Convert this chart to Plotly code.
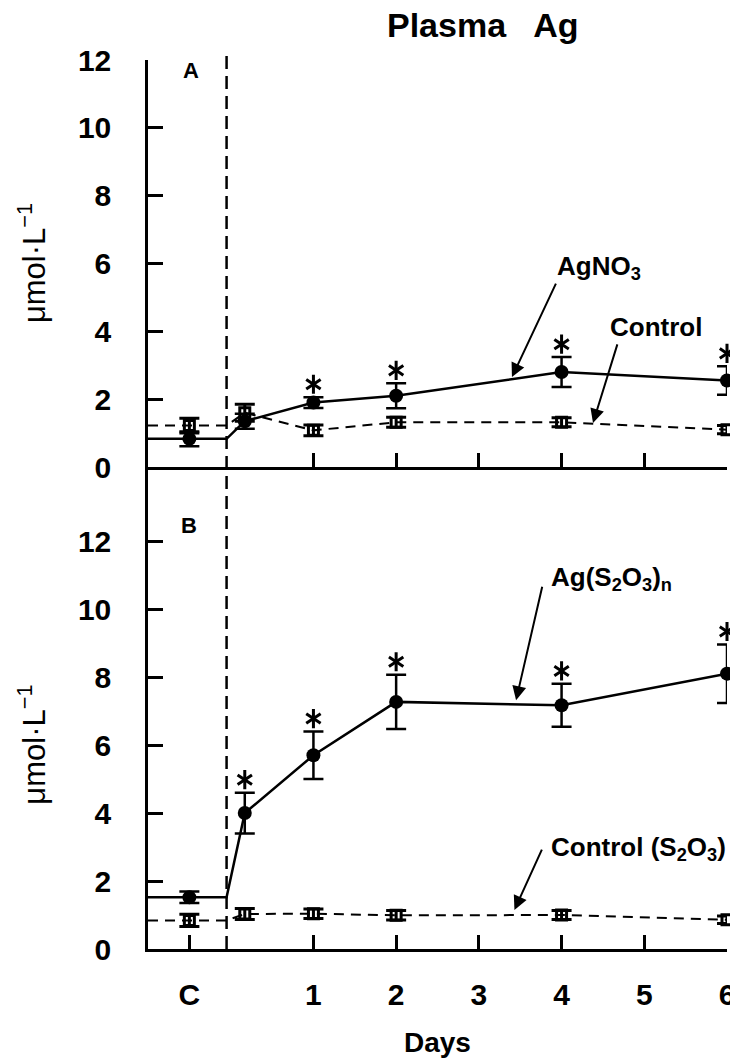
import plotly.graph_objects as go

# ---------------- data ----------------
day_ticks = [-0.5, 1, 2, 3, 4, 5, 6]
day_labels = ["C", "1", "2", "3", "4", "5", "6"]
sample_days = [-0.5, 0.17, 1, 2, 4, 6]      # C (pre-exposure), ~4 h, days 1, 2, 4, 6
exposure_start = -0.05                      # dashed vertical line: start of exposure
x_range = [-1, 6]

# Panel A
agno3 = [0.83, 1.35, 1.90, 2.10, 2.80, 2.55]
agno3_err = [0.22, 0.22, 0.16, 0.37, 0.44, 0.42]
agno3_sig = [False, False, True, True, True, True]
control_a = [1.22, 1.60, 1.08, 1.32, 1.32, 1.10]
control_a_err = [0.22, 0.25, 0.16, 0.15, 0.13, 0.12]

# Panel B
ags2o3 = [1.52, 4.00, 5.70, 7.27, 7.17, 8.10]
ags2o3_err = [0.17, 0.60, 0.70, 0.80, 0.63, 0.86]
ags2o3_sig = [False, True, True, True, True, True]
control_b = [0.84, 1.03, 1.04, 0.99, 1.00, 0.86]
control_b_err = [0.18, 0.16, 0.14, 0.14, 0.13, 0.11]

y_ticks = [0, 2, 4, 6, 8, 10, 12]
y_range_a = [0, 12]
y_range_b = [0, 14.18]

FONT = "Liberation Sans, Arial, Helvetica, sans-serif"
BLACK = "#000000"

fig = go.Figure()


def line_path(vals):
    xs = [x_range[0], exposure_start] + sample_days[1:]
    ys = [vals[0], vals[0]] + vals[1:]
    return xs, ys


def add_panel(xa, ya, treat, treat_err, treat_sig, ctrl, ctrl_err):
    # control: dashed line
    xs, ys = line_path(ctrl)
    fig.add_trace(go.Scatter(x=xs, y=ys, xaxis=xa, yaxis=ya, mode="lines",
                             line=dict(color=BLACK, width=2, dash="10px,7px"),
                             cliponaxis=False, hoverinfo="skip", showlegend=False))
    # treatment: solid line
    xs, ys = line_path(treat)
    fig.add_trace(go.Scatter(x=xs, y=ys, xaxis=xa, yaxis=ya, mode="lines",
                             line=dict(color=BLACK, width=2.5),
                             cliponaxis=False, hoverinfo="skip", showlegend=False))
    # control markers + error bars
    fig.add_trace(go.Scatter(x=sample_days, y=ctrl, xaxis=xa, yaxis=ya, mode="markers",
                             marker=dict(symbol="square-open", size=10, color=BLACK,
                                         line=dict(color=BLACK, width=3)),
                             error_y=dict(type="data", array=ctrl_err, visible=True,
                                          color=BLACK, thickness=3, width=10),
                             cliponaxis=False, showlegend=False))
    # treatment markers + error bars
    fig.add_trace(go.Scatter(x=sample_days, y=treat, xaxis=xa, yaxis=ya, mode="markers",
                             marker=dict(symbol="circle", size=14, color=BLACK),
                             error_y=dict(type="data", array=treat_err, visible=True,
                                          color=BLACK, thickness=2.5, width=10),
                             cliponaxis=False, showlegend=False))
    # significance asterisks
    sx = [d for d, s in zip(sample_days, treat_sig) if s]
    sy = [v + e + 0.38 for v, e, s in zip(treat, treat_err, treat_sig) if s]
    for sym in ("y-up-open", "y-down-open"):
        fig.add_trace(go.Scatter(x=sx, y=sy, xaxis=xa, yaxis=ya, mode="markers",
                                 marker=dict(symbol=sym, size=12, color=BLACK,
                                             line=dict(color=BLACK, width=3)),
                                 cliponaxis=False, hoverinfo="skip", showlegend=False))


add_panel("x", "y", agno3, agno3_err, agno3_sig, control_a, control_a_err)
add_panel("x2", "y2", ags2o3, ags2o3_err, ags2o3_sig, control_b, control_b_err)

split = 482 / 889

axis_common = dict(showline=True, linecolor=BLACK, linewidth=2.5, showgrid=False,
                   zeroline=False, ticks="inside", tickcolor=BLACK, tickwidth=2.5,
                   automargin=False, ticklabeloverflow="allow",
                   tickfont=dict(family=FONT, size=30, color=BLACK, weight="bold"))

# the page body adds an 8 px offset, so the figure is 8 px smaller than the window
fig.update_layout(
    width=730, height=1052,
    margin=dict(l=140, r=11, t=52, b=111, autoexpand=False),
    paper_bgcolor="white", plot_bgcolor="white",
    showlegend=False,
    xaxis=dict(axis_common, domain=[0, 1], range=x_range, anchor="y",
               tickvals=day_ticks[1:], showticklabels=False, ticklen=14),
    yaxis=dict(axis_common, domain=[split, 1], range=y_range_a, anchor="x",
               tickvals=y_ticks, ticklen=15, ticklabelstandoff=28),
    xaxis2=dict(axis_common, domain=[0, 1], range=x_range, anchor="y2",
                tickvals=day_ticks, ticktext=day_labels, ticklen=14,
                ticklabelstandoff=17),
    yaxis2=dict(axis_common, domain=[0, split], range=y_range_b, anchor="x2",
                tickvals=y_ticks, ticklen=15, ticklabelstandoff=28),
)

# dashed vertical line marking the start of exposure
fig.add_shape(type="line", xref="x", yref="paper", x0=exposure_start, x1=exposure_start,
              y0=0, y1=1.006, line=dict(color=BLACK, width=2.5, dash="13px,7px"))

ann_font = dict(family=FONT, size=26, color=BLACK)
annotations = [
    # title
    dict(text="<b>Plasma   Ag</b>", xref="paper", yref="paper", x=0.577, y=1.039,
         xanchor="center", yanchor="middle", showarrow=False,
         font=dict(family=FONT, size=34, color=BLACK)),
    # x-axis title
    dict(text="<b>Days</b>", xref="paper", yref="paper", x=0.500, y=-0.1057,
         xanchor="center", yanchor="middle", showarrow=False,
         font=dict(family=FONT, size=28, color=BLACK)),
    # y-axis titles
    dict(text="μmol·L<sup>−1</sup>", xref="paper", yref="y", x=-0.201, y=6,
         xanchor="center", yanchor="middle", textangle=-90, showarrow=False,
         font=dict(family=FONT, size=31, color=BLACK)),
    dict(text="μmol·L<sup>−1</sup>", xref="paper", yref="y2", x=-0.201, y=6,
         xanchor="center", yanchor="middle", textangle=-90, showarrow=False,
         font=dict(family=FONT, size=31, color=BLACK)),
    # panel letters
    dict(text="<b>A</b>", xref="x", yref="y", x=-0.479, y=11.7, showarrow=False,
         xanchor="center", yanchor="middle", font=dict(family=FONT, size=22, color=BLACK)),
    dict(text="<b>B</b>", xref="x2", yref="y2", x=-0.50, y=12.47, showarrow=False,
         xanchor="center", yanchor="middle", font=dict(family=FONT, size=22, color=BLACK)),
    # series labels
    dict(text="<b>AgNO<sub>3</sub></b>", xref="x", yref="y", x=3.92, y=5.87,
         xanchor="left", yanchor="middle", showarrow=False, font=ann_font),
    dict(text="<b>Control</b>", xref="x", yref="y", x=4.56, y=4.13,
         xanchor="left", yanchor="middle", showarrow=False, font=ann_font),
    dict(text="<b>Ag(S<sub>2</sub>O<sub>3</sub>)<sub>n</sub></b>", xref="x2", yref="y2",
         x=3.85, y=10.91, xanchor="left", yanchor="middle", showarrow=False, font=ann_font),
    dict(text="<b>Control (S<sub>2</sub>O<sub>3</sub>)</b>", xref="x2", yref="y2",
         x=3.85, y=2.97, xanchor="left", yanchor="middle", showarrow=False, font=ann_font),
]

arrows = [
    ("x", "y", 3.40, 2.65, 3.94, 5.45),
    ("x", "y", 4.38, 1.30, 4.68, 3.66),
    ("x2", "y2", 3.45, 7.32, 3.77, 10.70),
    ("x2", "y2", 3.43, 1.15, 3.77, 2.97),
]
for xr, yr, hx, hy, tx, ty in arrows:
    annotations.append(dict(text="", xref=xr, yref=yr, axref=xr, ayref=yr,
                            x=hx, y=hy, ax=tx, ay=ty, showarrow=True,
                            arrowhead=2, arrowsize=1.4, arrowwidth=2, arrowcolor=BLACK))

fig.update_layout(annotations=annotations)

fig.write_html("out.html")
